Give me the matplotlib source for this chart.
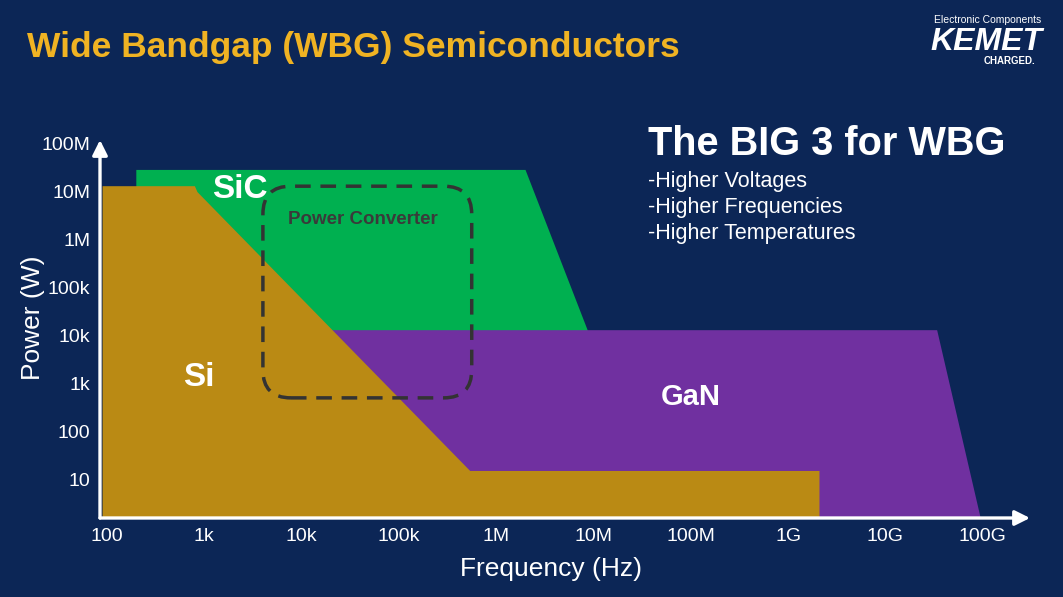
import matplotlib
matplotlib.use("Agg")
import matplotlib.pyplot as plt
from matplotlib.patches import FancyBboxPatch
from matplotlib.transforms import IdentityTransform

plt.rcParams['font.family'] = ['Liberation Sans', 'DejaVu Sans']

NAVY = '#0c2656'
GREEN = '#00b050'
PURPLE = '#7030a0'
GOLD = '#ba8a14'
WHITE = 'white'

# axis ticks
x_ticks = [1e2, 1e3, 1e4, 1e5, 1e6, 1e7, 1e8, 1e9, 1e10, 1e11]
x_labels = ['100', '1k', '10k', '100k', '1M', '10M', '100M', '1G', '10G', '100G']
y_ticks = [1e1, 1e2, 1e3, 1e4, 1e5, 1e6, 1e7, 1e8]
y_labels = ['10', '100', '1k', '10k', '100k', '1M', '10M', '100M']

# operating regions (frequency Hz, power W)
sic_freq = [200, 200, 2.0e6, 8.7e6, 8.7e6]
sic_power = [1, 2.75e7, 2.75e7, 1.26e4, 1]

gan_freq = [1e4, 1e4, 3.4e10, 1.0e11]
gan_power = [1, 1.26e4, 1.26e4, 1]

si_freq = [90, 90, 800, 850, 5.4e5, 2.1e9, 2.1e9]
si_power = [1, 1.26e7, 1.26e7, 9.5e6, 14.7, 14.7, 1]

# power converter box (freq range, power range)
pc_freq = [4.0e3, 5.6e5]
pc_power = [490, 1.26e7]

fig = plt.figure(figsize=(10.63, 5.97), dpi=100, facecolor=NAVY)
ax = fig.add_axes([100/1063, 79/597, 930/1063, 378/597])
ax.set_facecolor(NAVY)
ax.set_xscale('log')
ax.set_yscale('log')
ax.set_xlim(84.7, 3.06e11)
ax.set_ylim(1.54, 1.155e8)

ax.fill(sic_freq, sic_power, color=GREEN, lw=0, zorder=1)
ax.fill(gan_freq, gan_power, color=PURPLE, lw=0, zorder=2)
ax.fill(si_freq, si_power, color=GOLD, lw=0, zorder=3)

for s in ax.spines.values():
    s.set_visible(False)
ax.set_xticks(x_ticks)
ax.set_xticklabels(x_labels)
ax.set_yticks(y_ticks)
ax.set_yticklabels(y_labels)
ax.minorticks_off()
ax.tick_params(axis='both', length=0, colors=WHITE, labelsize=14)
ax.tick_params(axis='x', pad=7)
ax.tick_params(axis='y', pad=7)

ax.set_xlabel('Frequency (Hz)', color=WHITE, fontsize=19)
ax.set_ylabel('Power (W)', color=WHITE, fontsize=19)
ax.xaxis.set_label_coords(0.485, -0.135)
ax.yaxis.set_label_coords(-0.072, 0.53)
ax.xaxis.label.set_va('center')
ax.yaxis.label.set_va('center')

# axis arrows
arrow = dict(arrowstyle='-|>,head_length=0.9,head_width=0.45', color=WHITE, lw=2.4,
             shrinkA=0, shrinkB=0)
ax.annotate('', xy=(1.0, 0), xytext=(0, 0), xycoords='axes fraction', arrowprops=arrow,
            annotation_clip=False, zorder=6)
ax.annotate('', xy=(0, 1.0), xytext=(0, 0), xycoords='axes fraction', arrowprops=arrow,
            annotation_clip=False, zorder=6)

# dashed power converter box, drawn in pixels so corners stay round
fig.canvas.draw()
(x0, y0) = ax.transData.transform((pc_freq[0], pc_power[0]))
(x1, y1) = ax.transData.transform((pc_freq[1], pc_power[1]))
box = FancyBboxPatch((x0, y0), x1 - x0, y1 - y0,
                     boxstyle='round,pad=0,rounding_size=28',
                     fill=False, ec='#333333', lw=2.5, ls=(0, (4.5, 2.8)),
                     transform=IdentityTransform(), zorder=5)
fig.patches.append(box)
box.set_figure(fig)

ax.text(4.3e4, 2.5e6, 'Power Converter', color='#3a3a3a', fontsize=13.5,
        fontweight='bold', ha='center', va='center', zorder=7)
ax.text(2.3e3, 1.05e7, 'SiC', color=WHITE, fontsize=24, fontweight='bold',
        ha='center', va='center', zorder=7)
ax.text(880, 1.33e3, 'Si', color=WHITE, fontsize=24, fontweight='bold',
        ha='center', va='center', zorder=7)
ax.text(1e8, 513, 'GaN', color=WHITE, fontsize=21, fontweight='bold',
        ha='center', va='center', zorder=7)

# slide texts
fig.text(27/1063, 1 - 57/597, 'Wide Bandgap (WBG) Semiconductors', color='#f0b323',
         fontsize=25.5, fontweight='bold', ha='left', va='baseline')
fig.text(648/1063, 1 - 155/597, 'The BIG 3 for WBG', color=WHITE, fontsize=28.6,
         fontweight='bold', ha='left', va='baseline')
for i, line in enumerate(['-Higher Voltages', '-Higher Frequencies', '-Higher Temperatures']):
    fig.text(648/1063, 1 - (187 + 26*i)/597, line, color=WHITE, fontsize=15.5,
             ha='left', va='baseline')

# logo
fig.text(988/1063, 1 - 23/597, 'Electronic Components', color=WHITE, fontsize=7.5,
         ha='center', va='baseline')
fig.text(986/1063, 1 - 50/597, 'KEMET', color=WHITE, fontsize=23, fontweight='bold',
         fontstyle='italic', ha='center', va='baseline')
fig.text(1035/1063, 1 - 64/597, 'CHARGED.', color=WHITE, fontsize=7, fontweight='bold',
         ha='right', va='baseline')

fig.savefig('out.png', dpi=100, facecolor=NAVY)
